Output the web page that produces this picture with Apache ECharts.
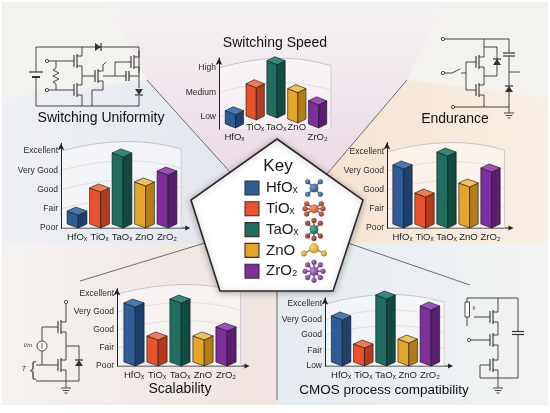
<!DOCTYPE html>
<html>
<head>
<meta charset="utf-8">
<script src="https://cdn.jsdelivr.net/npm/echarts/dist/echarts.min.js"></script>
<style>
  html, body { margin: 0; padding: 0; background: #fff; }
  #chart { width: 550px; height: 413px; }
</style>
</head>
<body>
<div id="chart"></div>
<script>
// materials and rating scales
const categories = ['HfOₓ', 'TiOₓ', 'TaOₓ', 'ZnO', 'ZrO₂'];
const speedLevels = ['Low', 'Medium', 'High'];
const ratingLevels = ['Poor', 'Fair', 'Good', 'Very Good', 'Excellent'];
const cmosLevels = ['Low', 'Fair', 'Good', 'Very Good', 'Excellent'];

// values (1 = lowest level)
const speedValues = [1.25, 2.35, 3.29, 2.15, 1.65];
const uniformityValues = [1.88, 3.08, 4.9, 3.39, 3.96];
const enduranceValues = [4.32, 2.84, 5.0, 3.37, 4.16];
const scalabilityValues = [4.5, 2.67, 4.72, 2.67, 3.17];
const cmosValues = [4.23, 2.42, 5.58, 2.74, 4.87];

// [front face, side face, top]
const faceColors = [
    ['#2e5c96', '#1e406d', '#4a79b2'],
    ['#e8532b', '#b43b1d', '#f27b52'],
    ['#1f6e60', '#124a40', '#33897a'],
    ['#e3a52a', '#b47d17', '#f1c259'],
    ['#7f2f9a', '#591f6f', '#9d50b8']
];

const FONT = '"Liberation Sans", Arial, Helvetica, sans-serif';
const INK = '#333';

const panels = [
    { title: 'Switching Speed', tx: 275, ty: 43, values: speedValues, levels: speedLevels,
      grid: { left: 224, top: 58, width: 104, height: 71 }, min: 0.5, max: 3.4, step: 0.5,
      offset: 5, lift: [1, 9, 11, 6, 1], baseline: false, stagger: [1, 0, 0, 0, 1] },
    { title: 'Switching Uniformity', tx: 101, ty: 118, values: uniformityValues, levels: ratingLevels,
      grid: { left: 65.75, top: 143.3, width: 112.5, height: 84.7 }, min: 1, max: 5.4, step: 1,
      offset: 4.75, baseline: true },
    { title: 'Endurance', tx: 455, ty: 119, values: enduranceValues, levels: ratingLevels,
      grid: { left: 391.5, top: 142.5, width: 110, height: 85.5 }, min: 1, max: 5.5, step: 1,
      offset: 4.5, baseline: true },
    { title: 'Scalability', tx: 180, ty: 389, values: scalabilityValues, levels: ratingLevels,
      grid: { left: 122.5, top: 288.6, width: 115, height: 77.4 }, min: 1, max: 5.3, step: 1,
      offset: 5.5, baseline: true },
    { title: 'CMOS process compatibility', tx: 384, ty: 390, values: cmosValues, levels: cmosLevels,
      grid: { left: 330, top: 297.8, width: 111, height: 68.2 }, min: 1, max: 5.4, step: 1,
      offset: 5, baseline: true }
];

// ---------- drawing helpers ----------
function seg(pts, w, z) {
    return { type: 'polyline', shape: { points: pts }, style: { stroke: INK, lineWidth: w || 0.9, fill: null }, z: z || 6 };
}
function dot(x, y) {
    return { type: 'circle', shape: { cx: x, cy: y, r: 1.6 }, style: { fill: '#fff', stroke: INK, lineWidth: 0.9 }, z: 7 };
}
function tri(pts) {
    return { type: 'polygon', shape: { points: pts }, style: { fill: INK }, z: 7 };
}
function fet(x, y) {
    return [
        seg([[x, y - 6], [x, y + 6]], 1.1),
        seg([[x + 3, y - 7], [x + 3, y + 7]], 1.1),
        seg([[x + 3, y - 5], [x + 8, y - 5], [x + 8, y - 11]]),
        seg([[x + 3, y + 5], [x + 8, y + 5], [x + 8, y + 11]])
    ];
}
function diode(x, y, dir) {
    if (dir === 'down') return [tri([[x - 4, y - 3], [x + 4, y - 3], [x, y + 3]]), seg([[x - 4, y + 3], [x + 4, y + 3]], 1.2)];
    if (dir === 'up') return [tri([[x - 4, y + 3], [x + 4, y + 3], [x, y - 3]]), seg([[x - 4, y - 3], [x + 4, y - 3]], 1.2)];
    return [tri([[x - 3, y - 4], [x - 3, y + 4], [x + 3, y]]), seg([[x + 3, y - 4], [x + 3, y + 4]], 1.2)];
}
function capV(x, y) {
    return [seg([[x - 1.5, y - 5], [x - 1.5, y + 5]], 1.2), seg([[x + 1.5, y - 5], [x + 1.5, y + 5]], 1.2)];
}
function capH(x, y) {
    return [seg([[x - 6, y - 1.5], [x + 6, y - 1.5]], 1.2), seg([[x - 6, y + 1.5], [x + 6, y + 1.5]], 1.2)];
}
function ground(x, y) {
    return [seg([[x, y - 5], [x, y]]), seg([[x - 5, y], [x + 5, y]]),
            seg([[x - 3.3, y + 2.5], [x + 3.3, y + 2.5]]), seg([[x - 1.5, y + 5], [x + 1.5, y + 5]])];
}
function label(text, x, y, size, opts) {
    opts = opts || {};
    return {
        type: 'text', z: opts.z || 8,
        style: {
            text: text, x: x, y: y, fill: opts.fill || '#111',
            font: (opts.italic ? 'italic ' : '') + (opts.weight || 'normal') + ' ' + size + 'px ' + FONT,
            textAlign: opts.align || 'center', align: opts.align || 'center',
            textVerticalAlign: 'middle', verticalAlign: 'middle'
        }
    };
}
function ball(x, y, r, light, base) {
    return {
        type: 'circle', shape: { cx: x, cy: y, r: r }, z: 12,
        style: {
            fill: { type: 'radial', x: 0.35, y: 0.35, r: 0.75,
                    colorStops: [{ offset: 0, color: light }, { offset: 1, color: base }] },
            stroke: 'rgba(0,0,0,0.35)', lineWidth: 0.4
        }
    };
}
function molecule(cx, cy, angles, len, center, ends) {
    const els = [];
    angles.forEach(a => {
        const r = a * Math.PI / 180;
        const ex = cx + Math.cos(r) * len, ey = cy - Math.sin(r) * len;
        els.push({ type: 'line', shape: { x1: cx, y1: cy, x2: ex, y2: ey }, style: { stroke: '#6f6f6f', lineWidth: 1.5 }, z: 11 });
        els.push(ball(ex, ey, 2.5, ends[0], ends[1]));
    });
    els.push(ball(cx, cy, 4.3, center[0], center[1]));
    return els;
}

// ---------- background sectors ----------
function lin(x, y, x2, y2, c0, c1) {
    return { type: 'linear', x: x, y: y, x2: x2, y2: y2, colorStops: [{ offset: 0, color: c0 }, { offset: 1, color: c1 }] };
}
const pentagon = [[277, 139], [363, 200], [333, 291], [220, 291], [191, 200]];
const background = [
    { type: 'rect', shape: { x: 2, y: 2, width: 546, height: 403 }, style: { fill: '#f3f2ef' }, z: -20 },
    { type: 'polygon', z: -19, shape: { points: [[105, 2], [147, 80], [230, 172], [277, 139], [327, 174], [407, 80], [445, 2]] },
      style: { fill: lin(0, 0, 0, 1, '#f4f2f2', '#ecdbe7') } },
    { type: 'polygon', z: -19, shape: { points: [[2, 98], [147, 80], [230, 172], [191, 200], [205, 243], [2, 243]] },
      style: { fill: lin(0, 0, 1, 0, '#eef0f3', '#e3e7ee') } },
    { type: 'polygon', z: -19, shape: { points: [[548, 98], [407, 80], [327, 174], [363, 200], [348, 243], [548, 243]] },
      style: { fill: lin(0, 0, 1, 0, '#f6e4d1', '#f7eee4') } },
    { type: 'polygon', z: -19, shape: { points: [[2, 243], [205, 243], [220, 291], [277, 291], [277, 405], [2, 405]] },
      style: { fill: lin(0, 0, 1, 0, '#f4f2f0', '#f0e3e0') } },
    { type: 'polygon', z: -19, shape: { points: [[348, 243], [548, 243], [548, 405], [277, 405], [277, 291], [333, 291]] },
      style: { fill: lin(0, 0, 1, 0, '#e5ebf0', '#f2f3f3') } }
];
const dividers = [
    [[147, 80], [230, 172]], [[407, 80], [327, 174]],
    [[205, 243], [80, 281]], [[348, 243], [470, 285]], [[277, 291], [277, 400]]
].map(p => ({ type: 'polyline', shape: { points: p }, style: { stroke: '#4d4d4d', lineWidth: 0.8, fill: null }, z: -5 }));

// ---------- key ----------
const keyEls = [
    { type: 'polygon', shape: { points: pentagon }, z: 9,
      style: { fill: '#fff', stroke: '#2a2a2a', lineWidth: 1.6, shadowBlur: 6, shadowColor: 'rgba(0,0,0,0.3)', shadowOffsetY: 1 } },
    label('Key', 278, 166, 17, { z: 12 })
];
const molShapes = [
    { angles: [45, 135, 225, 315], center: ['#6f9ad0', '#24507f'], ends: ['#6f9ad0', '#24507f'] },
    { angles: [35, 145, 215, 325, 0, 180], center: ['#ff9a6e', '#d8461f'], ends: ['#d9785c', '#8f2d1c'] },
    { angles: [45, 135, 225, 315, 90, 270], center: ['#5fb2a2', '#175e51'], ends: ['#c96656', '#7d2722'] },
    null,
    { angles: [0, 45, 90, 135, 180, 225, 270, 315], center: ['#c68be0', '#6c2589'], ends: ['#b77ad2', '#62207d'] }
];
categories.forEach((name, k) => {
    const y = 188 + k * 20.8;
    keyEls.push({ type: 'rect', shape: { x: 245, y: y - 7, width: 14, height: 14 }, z: 11,
                  style: { fill: faceColors[k][0], stroke: '#333', lineWidth: 1.1 } });
    keyEls.push(label(name, 266, y, 15, { align: 'left', z: 12, fill: '#1a1a1a' }));
    const m = molShapes[k];
    if (m) {
        keyEls.push(...molecule(314, y, m.angles, 9, m.center, m.ends));
    } else {
        keyEls.push({ type: 'line', shape: { x1: 304, y1: y + 3, x2: 314, y2: y - 2 }, style: { stroke: '#888', lineWidth: 1.5 }, z: 11 });
        keyEls.push({ type: 'line', shape: { x1: 324, y1: y + 3, x2: 314, y2: y - 2 }, style: { stroke: '#888', lineWidth: 1.5 }, z: 11 });
        keyEls.push(ball(304, y + 3, 2.8, '#f5d46b', '#c78e12'));
        keyEls.push(ball(324, y + 3, 2.8, '#f5d46b', '#c78e12'));
        keyEls.push(ball(314, y - 2, 4.8, '#f8d873', '#cf9518'));
    }
});

// ---------- circuits ----------
const circuits = [
    // top-left
    seg([[36, 72], [36, 47], [139, 47], [139, 88]]),
    ...diode(98, 47, 'right'),
    seg([[29, 72], [43, 72]], 1.2), seg([[32, 77], [40, 77]], 2),
    seg([[36, 77], [36, 106], [139, 106], [139, 96]]),
    ...diode(139, 92, 'down'),
    ...fet(74, 61), seg([[82, 50], [82, 47]]), seg([[82, 72], [82, 79]]),
    ...fet(74, 90), seg([[82, 101], [82, 106]]),
    seg([[82, 76], [95, 76]]),
    ...fet(95, 76), seg([[103, 65], [106, 62]]), seg([[103, 87], [103, 90], [92, 90], [92, 106]]),
    seg([[103, 76], [126, 76]]), ...capV(127.5, 76), seg([[129, 76], [139, 76]]),
    seg([[115, 76], [115, 62], [131, 62]]), ...fet(131, 62),
    dot(47, 61), seg([[48.6, 61], [74, 61]]), dot(47, 90), seg([[48.6, 90], [74, 90]]),
    seg([[56, 61], [56, 68], [53, 70], [59, 73], [53, 76], [59, 79], [53, 82], [56, 84], [56, 90]]),
    // top-right
    dot(443, 39), seg([[444.6, 39], [509, 39], [509, 52.5]]), ...capH(509, 54.5),
    seg([[509, 56.5], [509, 86]]), ...diode(509, 89, 'up'), seg([[509, 92], [509, 107]]), seg([[509, 72], [520, 72]]),
    ...fet(476, 62), ...fet(476, 90),
    seg([[484, 39], [484, 51]]), seg([[484, 73], [484, 79]]), seg([[484, 101], [484, 107]]),
    seg([[484, 47], [497, 47], [497, 76], [484, 76]]), ...diode(497, 62, 'up'),
    seg([[476, 62], [466, 62], [466, 90], [476, 90]]),
    dot(443, 73), seg([[444.6, 73], [452, 73], [460, 69]]), seg([[461, 73], [466, 73]]),
    dot(453, 107), seg([[454.6, 107], [509, 107], [509, 108]]), ...ground(509, 113),
    // bottom-left
    dot(66, 302), seg([[66, 303.6], [66, 316]]), ...fet(58, 327),
    seg([[42, 327], [58, 327]]), seg([[42, 327], [42, 341]]),
    { type: 'circle', shape: { cx: 42, cy: 346, r: 5 }, style: { fill: '#fff', stroke: INK, lineWidth: 0.9 }, z: 6 },
    seg([[42, 343], [42, 349]], 0.8),
    seg([[42, 351], [42, 365], [58, 365]]), seg([[36, 365], [42, 365]]),
    seg([[66, 338], [66, 354]]), seg([[66, 346], [79, 346], [79, 360]]), ...diode(79, 363, 'up'), seg([[79, 366], [79, 381]]),
    ...fet(58, 365), seg([[66, 376], [66, 383]]), seg([[36, 381], [79, 381]]), ...ground(66, 388),
    label('I/m', 28, 345, 6, { italic: true, fill: '#333' }),
    label('T', 24, 369, 7, { italic: true, fill: '#333' }),
    label('{', 33, 370, 20, { fill: '#666' }),
    // bottom-right
    { type: 'rect', shape: { x: 465, y: 302, width: 4.5, height: 15 }, style: { fill: '#fff', stroke: INK, lineWidth: 0.9 }, z: 6 },
    seg([[467, 298], [467, 302]]), seg([[467, 317], [467, 326]]),
    seg([[467, 298], [518, 298], [518, 331]]), ...capH(518, 333), seg([[518, 335], [518, 378], [498, 378]]),
    seg([[498, 298], [498, 306]]), ...fet(490, 317),
    seg([[498, 328], [498, 329]]), ...fet(490, 340),
    seg([[498, 351], [498, 354]]), ...fet(490, 365), seg([[498, 376], [498, 383]]), ...ground(498, 388),
    seg([[474, 317], [490, 317]]), dot(469, 340), seg([[470.6, 340], [490, 340]]),
    seg([[490, 365], [480, 365], [480, 378], [498, 378]]),
    label('fr', 474, 309, 5, { italic: true, fill: '#333' })
];

const titles = panels.map(p => label(p.title, p.tx, p.ty, p.title.indexOf('CMOS') === 0 ? 13.5 : 14, { fill: '#111' }));

// ---------- series renderers ----------
function frameRenderer(p, n) {
    return function (params, api) {
        const lvl = api.value(1);
        const first = api.coord([0, lvl]);
        const band = api.size([1, 0])[0];
        const xl = first[0] - band / 2 - p.offset;
        const xr = first[0] + band * 4.5 + 3;
        const y = first[1];
        const yBase = api.coord([0, p.min])[1];
        const mid = (xl + xr) / 2 + 6;
        const bulge = 18;
        const children = [];
        if (params.dataIndex === n - 1) {
            children.push({ type: 'path', shape: { pathData: 'M' + xl + ',' + y + ' Q' + mid + ',' + (y - bulge) + ' ' + xr + ',' + (y - 2) +
                            ' L' + xr + ',' + yBase + ' L' + xl + ',' + yBase + ' Z' },
                            style: { fill: 'rgba(255,255,255,0.45)', stroke: null } });
            children.push({ type: 'line', shape: { x1: xr, y1: y - 2, x2: xr, y2: yBase }, style: { stroke: '#cfcfd4', lineWidth: 1 } });
        }
        if (lvl > p.min) {
            children.push({ type: 'bezierCurve', shape: { x1: xl, y1: y, cpx1: mid, cpy1: y - bulge, x2: xr, y2: y - 2 },
                            style: { stroke: '#c6c5cb', lineWidth: 1, fill: null } });
        }
        if (params.dataIndex === 0 && p.baseline) {
            children.push({ type: 'line', shape: { x1: xl, y1: yBase, x2: xr + 5, y2: yBase }, style: { stroke: '#222', lineWidth: 1 } });
            children.push({ type: 'polygon', shape: { points: [[xr + 4, yBase - 2.5], [xr + 9, yBase], [xr + 4, yBase + 2.5]] }, style: { fill: '#222' } });
        }
        return { type: 'group', children: children };
    };
}

function barRenderer(p) {
    return function (params, api) {
        const i = api.value(0);
        const top = api.coord([i, api.value(1)]);
        const base = api.coord([i, p.min]);
        const band = api.size([1, 0])[0];
        const hw = band * 0.44;
        const d = 4;
        const cx = top[0];
        const x0 = cx - hw, x1 = cx + hw, xm = cx + hw * 0.12;
        const yt = top[1];
        const yb = base[1] - (p.lift ? p.lift[i] : 0);
        const c = faceColors[i];
        const edge = { stroke: 'rgba(15,15,25,0.85)', lineWidth: 0.7 };
        return {
            type: 'group',
            children: [
                { type: 'polygon', shape: { points: [[x0, yt], [xm, yt + d], [xm, yb], [x0, yb - d]] },
                  style: Object.assign({ fill: c[0] }, edge) },
                { type: 'polygon', shape: { points: [[xm, yt + d], [x1, yt], [x1, yb - d], [xm, yb]] },
                  style: Object.assign({ fill: c[1] }, edge) },
                { type: 'polygon', shape: { points: [[x0, yt], [xm, yt + d], [x1, yt], [x0 + x1 - xm, yt - d]] },
                  style: Object.assign({ fill: c[2] }, edge) }
            ]
        };
    };
}

// ---------- option ----------
const grids = [], xAxes = [], yAxes = [], series = [];
panels.forEach((p, idx) => {
    grids.push(Object.assign({}, p.grid));
    xAxes.push({
        gridIndex: idx, type: 'category', data: categories, z: 2,
        axisLine: { show: false }, axisTick: { show: false },
        axisLabel: {
            interval: 0, color: '#1e1e1e', fontSize: 9.5, fontFamily: FONT,
            margin: p.stagger ? -7 : 4, lineHeight: 10,
            formatter: (v, k) => (p.stagger && p.stagger[k] ? '\n' + v : v)
        }
    });
    yAxes.push({
        gridIndex: idx, type: 'value', min: p.min, max: p.max, interval: p.step, offset: p.offset, z: 2,
        axisLine: { show: true, symbol: ['none', 'arrow'], symbolSize: [5, 7], lineStyle: { color: '#222', width: 1 } },
        axisTick: { show: false }, splitLine: { show: false },
        axisLabel: {
            color: '#2a2a2a', fontSize: 8.5, fontFamily: FONT, margin: 3, showMaxLabel: false,
            formatter: v => (Math.abs(v - Math.round(v)) < 1e-6 ? (p.levels[Math.round(v) - 1] || '') : '')
        }
    });
    series.push({
        type: 'custom', xAxisIndex: idx, yAxisIndex: idx, silent: true, clip: false, z: 1,
        data: p.levels.map((_, k) => [0, k + 1]),
        renderItem: frameRenderer(p, p.levels.length)
    });
    series.push({
        type: 'custom', xAxisIndex: idx, yAxisIndex: idx, silent: true, clip: false, z: 3,
        data: p.values.map((v, k) => [k, v]),
        renderItem: barRenderer(p)
    });
});

const chart = echarts.init(document.getElementById('chart'));
chart.setOption({
    animation: false,
    textStyle: { fontFamily: FONT },
    graphic: { elements: [].concat(background, dividers, titles, keyEls, circuits) },
    grid: grids,
    xAxis: xAxes,
    yAxis: yAxes,
    series: series
});
</script>
</body>
</html>
